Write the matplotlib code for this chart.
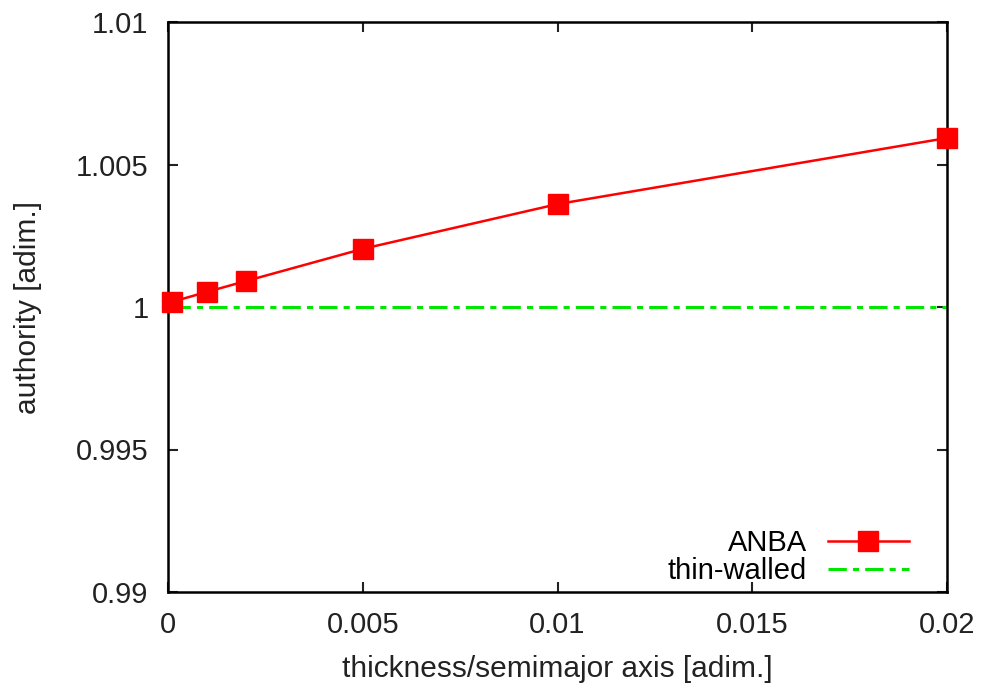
import matplotlib
matplotlib.use("Agg")
import matplotlib.pyplot as plt

x_anba = [0.0001, 0.001, 0.002, 0.005, 0.01, 0.02]
y_anba = [1.00018, 1.00053, 1.00091, 1.00204, 1.00361, 1.00593]
x_thin = [0.0001, 0.02]
y_thin = [1.0, 1.0]
xticks = [0, 0.005, 0.01, 0.015, 0.02]
xticklabels = ["0", "0.005", "0.01", "0.015", "0.02"]
yticks = [0.99, 0.995, 1.0, 1.005, 1.01]
yticklabels = ["0.99", "0.995", "1", "1.005", "1.01"]

plt.rcParams['font.family'] = ['Liberation Sans', 'DejaVu Sans']
fig = plt.figure(figsize=(9.82, 6.88), dpi=100)
ax = fig.add_axes([168/982, 1-592/688, (947-168)/982, (592-22)/688])

ax.plot(x_anba, y_anba, color='#ff0000', lw=1.8, marker='s', markersize=14,
        label='ANBA', clip_on=False, zorder=3)
ax.plot(x_thin, y_thin, color='#00e600', lw=2.2, dashes=(6, 2, 2, 2),
        label='thin-walled', zorder=2)

ax.set_xlim(0, 0.02)
ax.set_ylim(0.99, 1.01)
ax.set_xticks(xticks)
ax.set_xticklabels(xticklabels)
ax.set_yticks(yticks)
ax.set_yticklabels(yticklabels)
ax.tick_params(direction='in', top=True, right=True, length=7, width=1.5,
               labelsize=21, colors='#222222')
ax.tick_params(axis='y', pad=14)
ax.tick_params(axis='x', pad=14)
for s in ax.spines.values():
    s.set_linewidth(1.8)
ax.set_xlabel('thickness/semimajor axis [adim.]', fontsize=21.5, color='#222222')
ax.set_ylabel('authority [adim.]', fontsize=21.5, color='#222222')
ax.xaxis.set_label_coords(0.5, -(677-592)/570, transform=ax.transAxes)
ax.yaxis.set_label_coords(-(168-28)/779, 0.5, transform=ax.transAxes)
ax.xaxis.label.set_verticalalignment('baseline')
ax.yaxis.label.set_verticalalignment('center')

ax.legend(loc='lower right', frameon=False, markerfirst=False, fontsize=21,
          handlelength=2.78, handletextpad=0.72, borderaxespad=0.0,
          borderpad=0.0, labelspacing=0.0,
          bbox_to_anchor=((909-168)/779, (592-585)/570), bbox_transform=ax.transAxes)

fig.savefig('out.png', dpi=100)
